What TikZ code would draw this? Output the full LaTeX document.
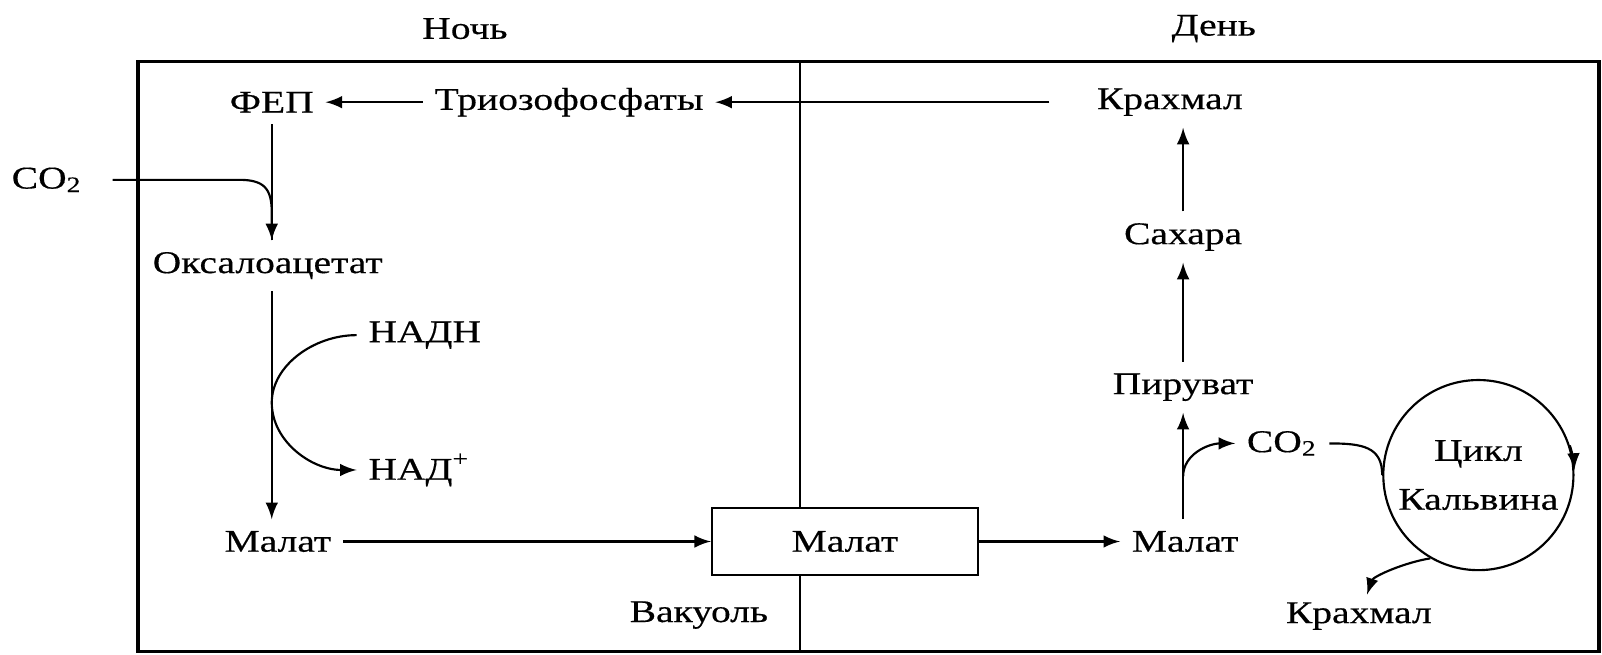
\documentclass[tikz,border=0pt]{standalone}
\usepackage{fontspec}
\setmainfont{Liberation Serif}[FakeStretch=1.25,FakeBold=0.4]
\usetikzlibrary{calc,positioning,shapes}

\begin{document}
\begin{tikzpicture}[x=.01cm,y=-.01cm,line width=.6pt,
    every node/.style={font=\fontsize{8.8}{10.5}\selectfont,inner sep=3pt},
    compound/.style={anchor=center}]
    \useasboundingbox (0,0) rectangle (1568,641);
    % frame: night | day
    \draw[line width=.9pt] (135,60) rectangle (1565,638);
    \draw (783,60) -- (783,638);
    \node (night) at (455,28) {Ночь};
    \node (day) at (1188,28) {День};

    % night side
    \node[compound] (fep) at (266,100) {ФЕП};
    \node[compound] (trio) at (557,100) {Триозофосфаты};
    \node[compound] (co2a) at (46,176) {CO\textsubscript{2}};
    \node[compound] (oxa) at (262,260) {Оксалоацетат};
    \node[anchor=west] (nadh) at (349,328) {НАДН};
    \node[anchor=west] (nad) at (349,460) {НАД\textsuperscript{+}};
    \node[compound] (malL) at (272,530) {Малат};
    \node[draw,fill=white,minimum width=2.6cm,minimum height=.65cm] (vac) at (827,530) {Малат};
    \node (vaclab) at (684,602) {Вакуоль};

    % day side
    \node[compound] (starchA) at (1145,100) {Крахмал};
    \node[compound] (sug) at (1158,232) {Сахара};
    \node[compound] (pyr) at (1158,379) {Пируват};
    \node[compound] (malR) at (1160,530) {Малат};
    \node[compound] (co2b) at (1255,434) {CO\textsubscript{2}};
    \node[circle,draw,minimum size=1.86cm,inner sep=0pt,align=center,
          font=\fontsize{8.8}{13.6}\selectfont] (calvin) at (1447,465) {Цикл\\Кальвина};
    \node[compound] (starchB) at (1330,603) {Крахмал};

    % night reactions
    \draw[-latex] (trio) -- (fep);
    \draw[-latex,shorten <=3.5mm] (starchA) -- (trio);
    \coordinate (k1) at (fep.south |- co2a.east);
    \draw (fep.south) -- (fep.south |- oxa.north);
    \draw[-latex,shorten <=1.8mm] (co2a.east) -- ($(k1)+(-32,0)$) .. controls +(24,0) and +(0,-24) .. ($(k1)+(0,32)$) -- (fep.south |- oxa.north);
    \draw[-latex] (oxa.south -| fep.south) -- (fep.south |- malL.north);
    \coordinate (k2) at ($(fep.south |- nadh.west)!.5!(fep.south |- nad.west)$);
    \draw[-latex] (nadh.west) .. controls +(-42,0) and +(0,-36) .. (k2) .. controls +(0,38) and +(-44,0) .. (nad.west);
    \draw[-latex] (malL) -- (vac);

    % day reactions
    \draw[-latex] (vac) -- (malR);
    \draw[-latex] (malR.north -| pyr.south) -- (pyr.south);
    \draw[-latex] (pyr) -- (sug);
    \draw[-latex] (sug) -- (sug |- starchA.south);
    \coordinate (k3) at ($(malR.north -| pyr.south)!.4!(pyr.south)$);
    \draw[-latex] (k3) .. controls +(0,-22) and +(-26,0) .. (co2b.west);
    \draw (co2b.east) .. controls +(32,0) and +(0,-28) .. (calvin.west);
    \draw[-latex] (calvin.18) arc[start angle=-18,end angle=-3,radius=93];
    \draw[-latex] (calvin.-120) .. controls +(-25,4) and +(6,-18) .. ($(starchB.north)+(8,4)$);
\end{tikzpicture}
\end{document}
